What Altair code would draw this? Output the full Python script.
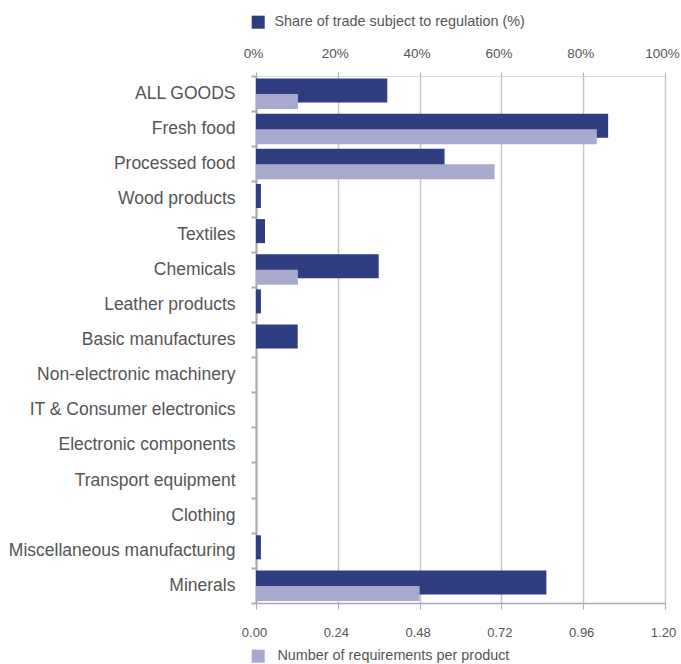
import altair as alt
import pandas as pd

categories = ["ALL GOODS", "Fresh food", "Processed food", "Wood products", "Textiles",
              "Chemicals", "Leather products", "Basic manufactures", "Non-electronic machinery",
              "IT & Consumer electronics", "Electronic components", "Transport equipment",
              "Clothing", "Miscellaneous manufacturing", "Minerals"]
share_pct = [32.1, 86.1, 46.1, 1.2, 2.2, 30.0, 1.2, 10.2, 0, 0, 0, 0, 0, 1.2, 71.0]
num_req = [0.123, 1.0, 0.70, 0, 0, 0.123, 0, 0, 0, 0, 0, 0, 0, 0, 0.48]
share_name = "Share of trade subject to regulation (%)"
num_name = "Number of requirements per product"
pct_ticks = [0, 20, 40, 60, 80, 100]
num_ticks = [0.0, 0.24, 0.48, 0.72, 0.96, 1.20]

DARK = "#2f3d81"
LIGHT = "#a7a9cd"
FONT = "Liberation Sans"
TXT = "#555555"

df = pd.DataFrame({"cat": categories, "share": share_pct, "num": num_req,
                   "s1": share_name, "s2": num_name})

yenc = alt.Y("cat:N", sort=None, title=None,
             scale=alt.Scale(paddingInner=0, paddingOuter=0),
             axis=alt.Axis(tickBand="extent", labelFontSize=17.5, labelColor=TXT, labelFont=FONT,
                           labelPadding=16, labelLimit=400, tickSize=5, tickColor="#aaaaaa",
                           domainColor="#aaaaaa", domainWidth=2, tickWidth=2, grid=False))

dark = alt.Chart(df).mark_bar(height=24, yOffset=-3).encode(
    y=yenc,
    x=alt.X("share:Q", title=None, scale=alt.Scale(domain=[0, 100], nice=False),
            axis=alt.Axis(orient="top", values=pct_ticks, labelExpr="datum.value + '%'",
                          labelFontSize=13.5, labelColor=TXT, labelFont=FONT, labelPadding=12,
                          labelOffset=-3, labelFlush=False, domain=False, tickSize=4,
                          tickColor="#aaaaaa", grid=True, gridColor="#c8c8c8", gridWidth=1.5)),
    color=alt.Color("s1:N", scale=alt.Scale(range=[DARK]),
                    legend=alt.Legend(title=None, orient="none", legendX=-5, legendY=-61,
                                      symbolType="square", symbolSize=170, symbolStrokeWidth=0,
                                      labelOffset=9, labelFontSize=14.4, labelColor=TXT,
                                      labelFont=FONT, labelLimit=500)),
)

light = alt.Chart(df).mark_bar(height=15, yOffset=8).encode(
    y=yenc,
    x=alt.X("num:Q", title=None, scale=alt.Scale(domain=[0, 1.2], nice=False),
            axis=alt.Axis(orient="bottom", values=num_ticks, format=".2f",
                          labelFontSize=13, labelColor=TXT, labelFont=FONT, labelPadding=17,
                          labelOffset=-2, labelFlush=False, domain=True, domainColor="#aaaaaa",
                          domainWidth=1.5, tickSize=6, tickColor="#aaaaaa", grid=False)),
    color=alt.Color("s2:N", scale=alt.Scale(range=[LIGHT]),
                    legend=alt.Legend(title=None, orient="none", legendX=-5, legendY=573,
                                      symbolType="square", symbolSize=170, symbolStrokeWidth=0,
                                      labelOffset=12, labelFontSize=14.4, labelColor=TXT,
                                      labelFont=FONT, labelLimit=500)),
)

chart = alt.layer(dark, light).resolve_scale(x="independent", color="independent").properties(
    width=409, height=527,
    autosize=alt.AutoSizeParams(type="none"),
    padding={"left": 256, "top": 76, "right": 16, "bottom": 61},
).configure_view(stroke=None).configure(background="white")

chart.save("out.html", embed_options={"renderer": "svg", "actions": False})
